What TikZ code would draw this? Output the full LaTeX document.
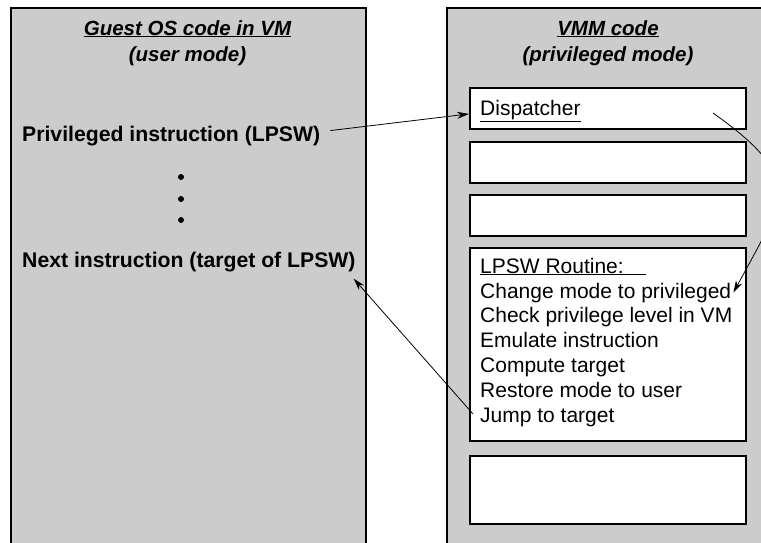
\documentclass[tikz,border=0pt]{standalone}
\usepackage{fontspec}
\setmainfont{Liberation Sans}
\usetikzlibrary{arrows.meta}
\definecolor{panelgray}{HTML}{CCCCCC}
\begin{document}
\begin{tikzpicture}[x=1pt,y=-1pt,
  panel/.style={draw=black,line width=2pt,fill=panelgray,inner sep=0pt,anchor=north west},
  codebox/.style={draw=black,line width=1.8pt,fill=white,inner sep=0pt,anchor=north west,minimum width=276pt},
  txt/.style={anchor=base west,inner sep=0pt,font=\fontsize{21}{25}\selectfont},
  btxt/.style={txt,font=\fontsize{21.2}{25}\selectfont\bfseries},
  ttl/.style={anchor=base,inner sep=0pt,font=\fontsize{20.5}{25}\selectfont\bfseries\itshape},
  dotnode/.style={circle,fill=black,inner sep=0pt,minimum size=6pt},
  arr/.style={line width=0.8pt,-{Stealth[length=12pt,width=7pt]}}]
\useasboundingbox (0,0) rectangle (761,542);
\clip (0,0) rectangle (761,542);
\fill[white] (0,0) rectangle (761,542);
% panels
\node[panel,minimum width=355pt,minimum height=570pt] (guest) at (10,7) {};
\node[panel,minimum width=324pt,minimum height=570pt] (vmm) at (446,7) {};
% titles
\node[ttl] (gt1) at (187.5,35) {\underline{Guest OS code in VM}};
\node[ttl] (gt2) at (187.5,61) {(user mode)};
\node[ttl] (vt1) at (608,35) {\underline{VMM code}};
\node[ttl] (vt2) at (608,61) {(privileged mode)};
% guest code
\node[btxt] (priv) at (22,141) {Privileged instruction (LPSW)};
\node[dotnode] (d1) at (181,177) {};
\node[dotnode] (d2) at (181,199) {};
\node[dotnode] (d3) at (181,220) {};
\node[btxt] (next) at (22,267) {Next instruction (target of LPSW)};
% VMM boxes
\node[codebox,minimum height=41pt] (disp) at (469,87) {};
\node[codebox,minimum height=41pt] (b2) at (469,141) {};
\node[codebox,minimum height=41pt] (b3) at (469,194) {};
\node[codebox,minimum height=193pt] (lpsw) at (469,247) {};
\node[codebox,minimum height=68pt] (b5) at (469,455) {};
\node[txt] (disptxt) at (480,115) {\underline{Dispatcher}};
\node[txt] (l0) at (480,273) {\underline{LPSW Routine:\hspace{1.05em}}};
\node[txt] (l1) at (480,298) {Change mode to privileged};
\node[txt] (l2) at (480,322) {Check privilege level in VM};
\node[txt] (l3) at (480,347) {Emulate instruction};
\node[txt] (l4) at (480,372) {Compute target};
\node[txt] (l5) at (480,397) {Restore mode to user};
\node[txt] (l6) at (480,422) {Jump to target};
% connectors
\coordinate (dstart) at (713,113);
\draw[arr] ([shift={(10pt,5pt)}]priv.east) -- ([yshift=-5.5pt]disp.west);
\draw[arr] (dstart) .. controls (803,177) and (786,196) .. ([xshift=2pt]l1.east);
\draw[arr] ([xshift=-7pt,yshift=3pt]l6.west) -- ([shift={(-2pt,-7pt)}]next.south east);
\end{tikzpicture}
\end{document}
